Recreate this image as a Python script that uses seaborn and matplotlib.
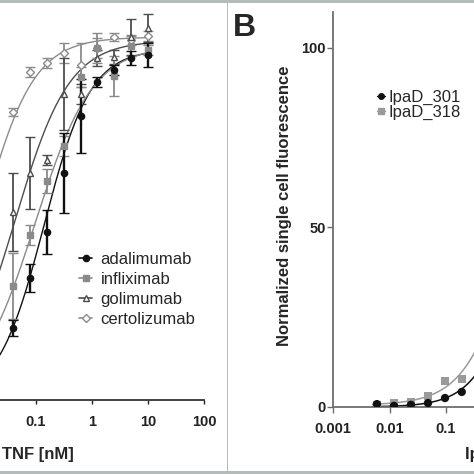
import numpy as np
import pandas as pd
import matplotlib
matplotlib.use("Agg")
import matplotlib.pyplot as plt
import seaborn as sns
from matplotlib.lines import Line2D
from matplotlib.patches import Rectangle

# ---- panel A: TNF titration (nM), two-fold dilutions
tnf_conc = [0.039, 0.078, 0.156, 0.3125, 0.625, 1.25, 2.5, 5, 10]

adalimumab_mean = [20.9, 35.5, 48.8, 66.0, 82.6, 92.4, 95.9, 99.4, 100.3]
adalimumab_sd = [2.3, 4.0, 6.5, 11.6, 10.8, 1.5, 1.5, 2.0, 3.6]
infliximab_mean = [33.1, 48.0, 63.7, 73.8, 93.9, 102.3, 94.2, 102.9, 101.7]
infliximab_sd = [9.6, 3.0, 3.5, 3.0, 3.0, 4.4, 5.8, 3.0, 1.5]
golimumab_mean = [54.7, 66.0, 69.8, 89.0, 89.0, 99.4, 99.7, 105.5, 108.1]
golimumab_sd = [11.3, 10.4, 1.5, 10.5, 3.0, 2.3, 2.0, 5.2, 4.0]
certolizumab_mean = [83.7, 95.3, 98.0, 100.9, 97.4, 102.3, 105.5, 104.7, 105.8]
certolizumab_sd = [1.2, 1.5, 1.5, 3.0, 6.4, 3.0, 1.2, 1.5, 1.5]

# 4PL fit parameters: bottom, top, EC50, hill
fit_a = {
    "adalimumab": (0, 102, 0.14, 1.05),
    "infliximab": (0, 103, 0.097, 0.85),
    "golimumab": (0, 104.5, 0.0423, 0.90),
    "certolizumab": (0, 105.5, 0.0109, 0.95),
}

# ---- panel B
ipad_conc = [0.006, 0.012, 0.024, 0.048, 0.096, 0.19]
ipad301 = [0.8, 0.3, 0.6, 1.1, 2.5, 4.2]
ipad318 = [0.5, 1.1, 1.4, 3.1, 7.2, 7.8]
fit_b = {
    "IpaD_301": (0, 100, 2.75, 1.1),
    "IpaD_318": (0.5, 100, 1.85, 1.0),
}


def four_pl(x, bottom, top, ec50, hill):
    return bottom + (top - bottom) / (1 + (ec50 / x) ** hill)


sns.set_theme(style="ticks")
plt.rcParams["font.family"] = ["Liberation Sans", "DejaVu Sans"]

fig = plt.figure(figsize=(4.74, 4.74), dpi=100)
W = 474.0

# ---------- panel A
axA = fig.add_axes([-76 / W, 74 / W, 280 / W, 395.6 / W])
styles_a = {
    "adalimumab": dict(color="#111111", marker="o", mfc="#111111", lw=1.4),
    "infliximab": dict(color="#8a8a8a", marker="s", mfc="#8a8a8a", lw=1.0),
    "golimumab": dict(color="#4d4d4d", marker="^", mfc="white", lw=1.0),
    "certolizumab": dict(color="#8c8c8c", marker="D", mfc="white", lw=1.0),
}
means = {"adalimumab": adalimumab_mean, "infliximab": infliximab_mean,
         "golimumab": golimumab_mean, "certolizumab": certolizumab_mean}
sds = {"adalimumab": adalimumab_sd, "infliximab": infliximab_sd,
       "golimumab": golimumab_sd, "certolizumab": certolizumab_sd}

xs = np.logspace(-3.2, 1, 200)
curves = []
for name, p in fit_a.items():
    curves.append(pd.DataFrame({"conc": xs, "signal": four_pl(xs, *p), "drug": name}))
curves = pd.concat(curves)
sns.lineplot(data=curves, x="conc", y="signal", hue="drug",
             palette={k: v["color"] for k, v in styles_a.items()},
             linewidth=1.0, legend=False, ax=axA)

for name in ["certolizumab", "golimumab", "infliximab", "adalimumab"]:
    st = styles_a[name]
    axA.errorbar(tnf_conc, means[name], yerr=sds[name], fmt=st["marker"],
                 color=st["color"], mfc=st["mfc"], mec=st["color"], ms=4.5,
                 capsize=3.5, elinewidth=st["lw"] + 0.3, capthick=1.0, zorder=3)

axA.set_xscale("log")
axA.set_xlim(1e-3, 100)
axA.set_ylim(0, 115)
axA.set_xticks([0.1, 1, 10, 100])
axA.set_xticklabels(["0.1", "1", "10", "100"])
axA.minorticks_off()
axA.set_yticks([])
axA.set_ylabel("")
sns.despine(ax=axA, left=True)
axA.spines["bottom"].set_color("#333333")
axA.spines["bottom"].set_linewidth(1.3)
axA.tick_params(axis="x", length=3, width=1, pad=8, labelsize=10.5, colors="#222222")
for t in axA.get_xticklabels():
    t.set_fontweight("bold")
axA.set_xlabel("TNF [nM]", fontsize=12, fontweight="bold")
axA.xaxis.set_label_coords(114 / 280, -0.118)

handles_a = [Line2D([0], [0], color=styles_a[n]["color"], marker=styles_a[n]["marker"],
                    mfc=styles_a[n]["mfc"], mec=styles_a[n]["color"], ms=4.5, lw=1.2)
             for n in fit_a]
fig.legend(handles_a, list(fit_a), loc="upper left", bbox_to_anchor=(79 / W, 1 - 252 / W),
           frameon=False, fontsize=12, handlelength=0.8, handletextpad=0.5,
           labelspacing=0.3, borderpad=0, borderaxespad=0)

# ---------- panel B
axB = fig.add_axes([333 / W, 67 / W, 339 / W, 395 / W])
xb = np.logspace(np.log10(0.005), 3, 200)
cb = []
for name, p in fit_b.items():
    cb.append(pd.DataFrame({"conc": xb, "signal": four_pl(xb, *p), "protein": name}))
cb = pd.concat(cb)
sns.lineplot(data=cb, x="conc", y="signal", hue="protein",
             palette={"IpaD_301": "#111111", "IpaD_318": "#9a9a9a"},
             linewidth=1.1, legend=False, ax=axB)
pts = pd.concat([
    pd.DataFrame({"conc": ipad_conc, "signal": ipad318, "protein": "IpaD_318"}),
    pd.DataFrame({"conc": ipad_conc, "signal": ipad301, "protein": "IpaD_301"}),
])
sns.scatterplot(data=pts, x="conc", y="signal", hue="protein", style="protein",
                markers={"IpaD_301": "o", "IpaD_318": "s"},
                palette={"IpaD_301": "#111111", "IpaD_318": "#9a9a9a"},
                s=36, linewidth=0, legend=False, ax=axB, zorder=3)
axB.set_xscale("log")
axB.set_xlim(1e-3, 1e3)
axB.set_ylim(0, 110)
axB.set_xticks([1e-3, 1e-2, 1e-1])
axB.set_xticklabels(["0.001", "0.01", "0.1"])
axB.minorticks_off()
axB.set_yticks([0, 50, 100])
sns.despine(ax=axB)
for s in ["left", "bottom"]:
    axB.spines[s].set_color("#6e6e6e")
    axB.spines[s].set_linewidth(1.3)
axB.tick_params(axis="both", length=4, width=1, colors="#6e6e6e", labelcolor="#222222",
                labelsize=10.5)
axB.tick_params(axis="x", pad=7)
axB.tick_params(axis="y", pad=1)
for t in axB.get_xticklabels() + axB.get_yticklabels():
    t.set_fontweight("bold")
axB.set_ylabel("Normalized single cell fluorescence", fontsize=12, fontweight="bold")
axB.yaxis.label.set_va("center")
axB.yaxis.set_label_coords(-48 / 339, 0.51)
axB.set_xlabel("IpaD [nM]", fontsize=12, fontweight="bold", ha="left")
axB.xaxis.set_label_coords(132 / 339, -0.1)

handles_b = [Line2D([0], [0], color="#111111", marker="o", ms=4, lw=1.0),
             Line2D([0], [0], color="#9a9a9a", marker="s", ms=4, lw=1.0)]
fig.legend(handles_b, ["IpaD_301", "IpaD_318"], loc="upper left",
           bbox_to_anchor=(377 / W, 1 - 90 / W), frameon=False, fontsize=12,
           handlelength=0.5, handletextpad=0.2, labelspacing=0.0,
           borderpad=0, borderaxespad=0)

fig.text(233 / W, 1 - 36 / W, "B", fontsize=23, fontweight="bold", va="baseline")

# panel frame lines
frame = "#b4bcbb"
fig.add_artist(Rectangle((0, 1 - 3 / W), 1, 3 / W, transform=fig.transFigure,
                         color=frame, lw=0))
fig.add_artist(Rectangle((0, 0), 1, 3 / W, transform=fig.transFigure, color=frame, lw=0))
fig.add_artist(Rectangle((226.5 / W, 0), 1.8 / W, 1, transform=fig.transFigure,
                         color=frame, lw=0))

fig.savefig("out.png", dpi=100)
